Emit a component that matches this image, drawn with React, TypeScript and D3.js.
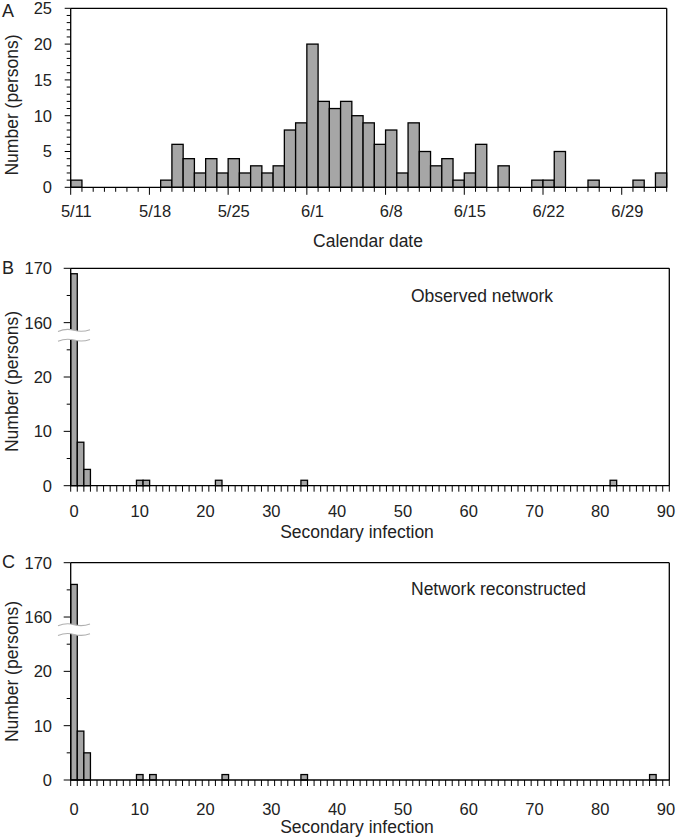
import React from "react";
import * as d3 from "d3";

// ---------- DATA ----------
const casesA: number[] = [
  1, 0, 0, 0, 0, 0, 0, 0, 1, 6, 4, 2, 4, 2, 4, 2, 3, 2, 3, 8, 9, 20, 12, 11, 12, 10,
  9, 6, 8, 2, 9, 5, 3, 4, 1, 2, 6, 0, 3, 0, 0, 1, 1, 5, 0, 0, 1, 0, 0, 0, 1, 0, 2,
];
const dateTickIndex: number[] = [0, 7, 14, 21, 28, 35, 42, 49];
const dateTickLabels: string[] = ["5/11", "5/18", "5/25", "6/1", "6/8", "6/15", "6/22", "6/29"];
const yTicksA: number[] = [0, 5, 10, 15, 20, 25];

const secondaryB: number[] = [0, 1, 2, 10, 11, 22, 35, 82];
const countsB: number[] = [169, 8, 3, 1, 1, 1, 1, 1];
const secondaryC: number[] = [0, 1, 2, 10, 12, 23, 35, 88];
const countsC: number[] = [166, 9, 5, 1, 1, 1, 1, 1];
const xTicksBC: number[] = [0, 10, 20, 30, 40, 50, 60, 70, 80, 90];
const yMajorBC: number[] = [0, 10, 20, 160, 170];
const yMinorBC: number[] = [5, 15, 25, 165];

const FONT = "'Liberation Sans', Arial, Helvetica, sans-serif";
const BAR_FILL = "#a6a6a6";
const TICK_FS = 16.5;
const TITLE_FS = 17.5;

// broken axis: values >= 160 shift down by 130
const brk = (v: number) => (v >= 160 ? v - 130 : v);

function PanelA() {
  const left = 70.7, right = 666.7, top = 8.3, bottom = 187.3;
  const idx = d3.range(casesA.length);
  const x = d3.scaleBand<number>().domain(idx).range([left, right]).paddingInner(0).paddingOuter(0);
  const y = d3.scaleLinear().domain([0, 25]).range([bottom, top]);
  const bw = x.bandwidth();
  const minor = d3.range(0, 26);
  const boundaries = d3.range(casesA.length + 1);
  return (
    <g>
      {casesA.map((v, i) =>
        v > 0 ? (
          <rect key={i} x={x(i)} y={y(v)} width={bw} height={y(0) - y(v)} fill={BAR_FILL} stroke="#000" strokeWidth={1.3} />
        ) : null
      )}
      {/* frame */}
      <line x1={left} x2={right} y1={top} y2={top} stroke="#000" strokeWidth={1.3} />
      <line x1={right} x2={right} y1={top} y2={bottom} stroke="#000" strokeWidth={1.3} />
      <line x1={left} x2={left} y1={top} y2={bottom} stroke="#000" strokeWidth={1.3} />
      <line x1={left} x2={right} y1={bottom} y2={bottom} stroke="#000" strokeWidth={1.3} />
      {minor.map((t) => (
        <line key={"m" + t} x1={left - (t % 5 === 0 ? 6 : 4)} x2={left} y1={y(t)} y2={y(t)} stroke="#000" strokeWidth={1} />
      ))}
      {boundaries.map((i) => (
        <line
          key={"b" + i}
          x1={left + i * bw}
          x2={left + i * bw}
          y1={bottom}
          y2={bottom + (i % 7 === 0 ? 7.5 : 4.5)}
          stroke="#000"
          strokeWidth={1}
        />
      ))}
      {yTicksA.map((t) => (
        <text key={"yl" + t} x={52} y={y(t)} dy="0.36em" textAnchor="end" fontSize={TICK_FS} fontFamily={FONT} fill="#222">
          {t}
        </text>
      ))}
      {dateTickIndex.map((di, k) => (
        <text key={"xl" + di} x={(x(di) as number) + bw / 2} y={216.5} textAnchor="middle" fontSize={TICK_FS} fontFamily={FONT} fill="#222">
          {dateTickLabels[k]}
        </text>
      ))}
      <text x={368} y={247} textAnchor="middle" fontSize={TITLE_FS} fontFamily={FONT} fill="#222">
        Calendar date
      </text>
      <text transform={`translate(18,105) rotate(-90)`} textAnchor="middle" fontSize={TITLE_FS} fontFamily={FONT} fill="#222">
        Number (persons)
      </text>
      <text x={2} y={17} fontSize={18} fontFamily={FONT} fill="#222">A</text>
    </g>
  );
}

function PanelBC(props: {
  values: number[];
  counts: number[];
  top: number;
  bottom: number;
  letter: string;
  letterY: number;
  note: string;
  noteY: number;
  tickLabelY: number;
  titleY: number;
  ylabelCY: number;
}) {
  const { values, counts, top, bottom } = props;
  const left = 70.7, right = 669.3;
  const cats = d3.range(0, 91);
  const x = d3.scaleBand<number>().domain(cats).range([left, right]).paddingInner(0).paddingOuter(0);
  const bw = x.bandwidth();
  const y = d3.scaleLinear().domain([0, 40]).range([bottom, top]);
  const boundaries = d3.range(cats.length + 1).map((i) => left + i * bw);
  const yUp = y(28.6), yLo = y(26.8);
  const wave = (yy: number) => `M58,${yy + 1.2} Q66,${yy - 2.2} 74,${yy} T90,${yy - 0.6}`;
  const gapPath = `M58,${yUp + 1.2} Q66,${yUp - 2.2} 74,${yUp} T90,${yUp - 0.6} L90,${yLo - 0.6} Q82,${yLo + 2.2} 74,${yLo} T58,${yLo + 1.2} Z`;
  return (
    <g>
      {values.map((v, i) => (
        <rect
          key={i}
          x={x(v)}
          y={y(brk(counts[i]))}
          width={bw}
          height={y(0) - y(brk(counts[i]))}
          fill={BAR_FILL}
          stroke="#000"
          strokeWidth={1.3}
        />
      ))}
      <line x1={left} x2={right} y1={top} y2={top} stroke="#000" strokeWidth={1.3} />
      <line x1={right} x2={right} y1={top} y2={bottom} stroke="#000" strokeWidth={1.3} />
      <line x1={left} x2={left} y1={top} y2={bottom} stroke="#000" strokeWidth={1.3} />
      <line x1={left} x2={right} y1={bottom} y2={bottom} stroke="#000" strokeWidth={1.3} />
      {yMajorBC.map((t) => (
        <line key={"M" + t} x1={left - 7} x2={left} y1={y(brk(t))} y2={y(brk(t))} stroke="#000" strokeWidth={1} />
      ))}
      {yMinorBC.map((t) => (
        <line key={"m" + t} x1={left - 4} x2={left} y1={y(brk(t))} y2={y(brk(t))} stroke="#000" strokeWidth={1} />
      ))}
      {boundaries.map((bx, i) => (
        <line key={"b" + i} x1={bx} x2={bx} y1={bottom} y2={bottom + 6} stroke="#000" strokeWidth={1} />
      ))}
      {/* axis break */}
      <path d={gapPath} fill="#fff" stroke="none" />
      <path d={wave(yUp)} fill="none" stroke="#b0b0b0" strokeWidth={1.1} />
      <path d={wave(yLo)} fill="none" stroke="#b0b0b0" strokeWidth={1.1} />
      {yMajorBC.map((t) => (
        <text key={"yl" + t} x={52} y={y(brk(t))} dy="0.36em" textAnchor="end" fontSize={TICK_FS} fontFamily={FONT} fill="#222">
          {t}
        </text>
      ))}
      {xTicksBC.map((t) => (
        <text key={"xl" + t} x={(x(t) as number) + bw / 2} y={props.tickLabelY} textAnchor="middle" fontSize={TICK_FS} fontFamily={FONT} fill="#222">
          {t}
        </text>
      ))}
      <text x={357} y={props.titleY} textAnchor="middle" fontSize={TITLE_FS} fontFamily={FONT} fill="#222">
        Secondary infection
      </text>
      <text transform={`translate(18,${props.ylabelCY}) rotate(-90)`} textAnchor="middle" fontSize={TITLE_FS} fontFamily={FONT} fill="#222">
        Number (persons)
      </text>
      <text x={411} y={props.noteY} fontSize={TITLE_FS} fontFamily={FONT} fill="#222">
        {props.note}
      </text>
      <text x={2} y={props.letterY} fontSize={18} fontFamily={FONT} fill="#222">
        {props.letter}
      </text>
    </g>
  );
}

export default function App() {
  return (
    <svg width={677} height={839} style={{ position: "absolute", left: 0, top: 0, background: "#fff" }}>
      <rect width={677} height={839} fill="#fff" />
      <PanelA />
      <PanelBC
        values={secondaryB}
        counts={countsB}
        top={268.3}
        bottom={485.7}
        letter="B"
        letterY={273.5}
        note="Observed network"
        noteY={301.5}
        tickLabelY={517}
        titleY={538}
        ylabelCY={381.5}
      />
      <PanelBC
        values={secondaryC}
        counts={countsC}
        top={562.7}
        bottom={780}
        letter="C"
        letterY={568}
        note="Network reconstructed"
        noteY={595}
        tickLabelY={815}
        titleY={833}
        ylabelCY={671.5}
      />
    </svg>
  );
}
